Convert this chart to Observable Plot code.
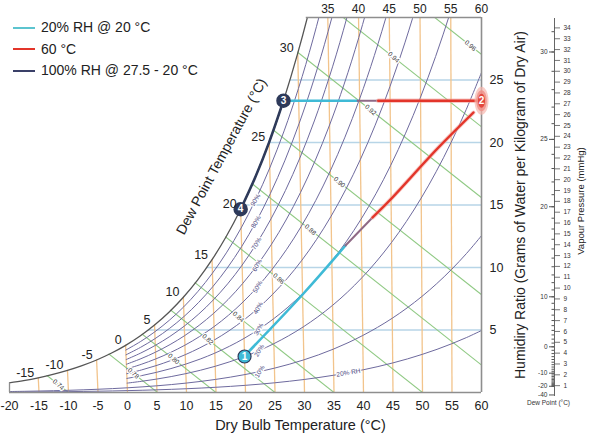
<!DOCTYPE html>
<html><head><meta charset="utf-8">
<script src="https://cdn.jsdelivr.net/npm/d3@7"></script>
<script src="https://cdn.jsdelivr.net/npm/@observablehq/plot@0.6"></script>
<style>
body{margin:0;background:#fff;font-family:"Liberation Sans",Arial,sans-serif;}
#wrap{position:relative;width:591px;height:438px;overflow:hidden;background:#fff;}
#wrap svg{position:absolute;top:0;}
#legend{position:absolute;left:13px;top:17px;font-size:14px;color:#222;line-height:21.5px;}
.row{display:flex;align-items:center;height:21.5px;}
.sw{width:22px;height:0;border-top:2px solid;margin-right:6px;}
</style></head><body>
<div id="wrap"><div id="legend"></div></div>
<script>
// ---------- data ----------
const tempsC = [-20,-17.5,-15,-12.5,-10,-7.5,-5,-2.5,0,2.5,5,7.5,10,12.5,15,17.5,20,22.5,25,27.5,30,32.5,35,37.5,40,42.5,45,47.5,50,52.5,55,57.5,60];
const pwsKPa = [0.1258,0.1556,0.1917,0.2349,0.2868,0.3486,0.4219,0.5087,0.6109,0.7310,0.8716,1.0354,1.2260,1.4469,1.7020,1.9959,2.3335,2.7200,3.1617,3.6652,4.2372,4.8848,5.6169,6.4440,7.3748,8.4194,9.5907,10.9003,12.3613,13.9884,15.7955,17.8010,20.0287];
const rhMain = [0.9,0.8,0.7,0.6,0.5,0.4,0.3,0.2];      // drawn from 0 °C
const rhLow = [0.1,0.04];                               // drawn from -20 °C
const rhLabelLevels = [0.9,0.8,0.7,0.6,0.5,0.4,0.3,0.2,0.1];
const rhLabelTexts = ["90%","80%","70%","60%","50%","40%","30%","20%","10%"];
const rhLabelT = 22.5;
const extraRhLabel = {r: 0.04, T: 37.5, text: "20% RH"};
const xTicks = [-20,-15,-10,-5,0,5,10,15,20,25,30,35,40,45,50,55,60];
const dryBulbLines = [-15,-10,-5,0,5,10,15,20,25,30,35,40,45,50,55];
const topLabels = [35,40,45,50,55,60];
const wTicks = [5,10,15,20,25];
const dewLabels = [-15,-10,-5,0,5,10,15,20,25,30];
const volX0 = [-10,5.1,15,25,35,50,65.9,81,101.8,117,132.5];
const volLabels = ["0.74","0.78","0.80","0.82","0.84","0.86","0.88","0.90","0.92","0.94","0.96"];
const volLabelX = [-11.7,1.0,7.8,13.6,18.8,25.6,31.0,35.9,41.2,45.1,58.1];
const volSlope = 0.373;
const topEdgeStart = 30.3;
// highlighted process paths
const diagX = [19.83,29.83,36.95,41.53,44.58,52.54,58.64];
const diagW = [2.92,7.92,11.76,14.0,15.44,19.52,22.4];
const horizBreaks = [39.0,42.5,59.3];
// nomogram
const mmHgTicks = d3.range(1,35);
const dewMajor = [30,25,20,10,0,-10,-20,-40];
const dewMinor = d3.range(-20,32);

// ---------- helpers ----------
const S = 0.0014;
const proj = (T, w) => T - S * (60 - T) * w;
const P = 101.325;
const ratio = (r, p) => 622 * r * p / (P - r * p);
const pts = tempsC.map((T, i) => ({T, p: pwsKPa[i]}));
const sat = pts.filter(d => d.T <= 35).map(d => { const W = ratio(1, d.p); return {T: d.T, W, X: proj(d.T, W)}; });
const satAt = T => sat.find(d => d.T === T);
const rhData = [];
for (const r of rhMain) for (const d of pts) if (d.T >= 0) { const W = ratio(r, d.p); rhData.push({r, T: d.T, W, X: proj(d.T, W)}); }
for (const r of rhLow) for (const d of pts) { const W = ratio(r, d.p); rhData.push({r, T: d.T, W, X: proj(d.T, W)}); }
const pAt = T => pts.find(d => d.T === T).p;
const rhLabelData = rhLabelLevels.map((r, i) => { const W = ratio(r, pAt(rhLabelT)); return {X: proj(rhLabelT, W), W, text: rhLabelTexts[i]}; });
{ const W = ratio(extraRhLabel.r, pAt(extraRhLabel.T)); rhLabelData.push({X: proj(extraRhLabel.T, W), W, text: extraRhLabel.text, rot: -9}); }

const m1 = (() => { const W = ratio(0.2, pAt(20)); return {X: proj(20, W), W, t: "1"}; })();
const m3 = {X: satAt(27.5).X, W: satAt(27.5).W, t: "3"};
const m4 = {X: satAt(20).X, W: satAt(20).W, t: "4"};
const m2 = {X: 60, W: m3.W, t: "2"};

const diag = diagX.map((X, i) => ({X, W: diagW[i]}));
const diagCyan = diag.slice(0, 3), diagMix = diag.slice(2, 4), diagRed = diag.slice(3);
const hW = m3.W;
const hCyan = [{X: m3.X, W: hW}, {X: horizBreaks[0], W: hW}];
const hMix = [{X: horizBreaks[0], W: hW}, {X: horizBreaks[1], W: hW}];
const hRed = [{X: horizBreaks[1], W: hW}, {X: horizBreaks[2], W: hW}];

const CYAN = "#3fbad6", RED = "#e3352a", NAVY = "#2e3a5a", MIX = "#8f6a86";
const RHC = "#6e6a9e", ORANGE = "#f2c48c", GREEN = "#8fc983", BLUE = "#b7d5e7", FRAME = "#8e8e8e";

const ellipse = {draw(ctx, size) {
  const r = Math.sqrt(size / Math.PI), rx = r * 0.5, ry = r, k = 0.5523;
  ctx.moveTo(rx, 0);
  ctx.bezierCurveTo(rx, ry * k, rx * k, ry, 0, ry);
  ctx.bezierCurveTo(-rx * k, ry, -rx, ry * k, -rx, 0);
  ctx.bezierCurveTo(-rx, -ry * k, -rx * k, -ry, 0, -ry);
  ctx.bezierCurveTo(rx * k, -ry, rx, -ry * k, rx, 0);
  ctx.closePath();
}};

const font = "Liberation Sans, Arial, sans-serif";
const mid = {textAnchor: "middle", lineAnchor: "middle"};

const main = Plot.plot({
  width: 591, height: 438,
  marginLeft: 9, marginRight: 110, marginTop: 17, marginBottom: 46,
  x: {domain: [-20, 60]},
  y: {domain: [0, 30]},
  style: {fontFamily: font, fontSize: "12.5px", background: "transparent", color: "#222"},
  marks: [
    Plot.ruleY(wTicks, {x1: -20, x2: 60, stroke: BLUE, strokeWidth: 1.3, clip: true}),
    Plot.link(dryBulbLines, {x1: T => proj(T, 0), y1: 0, x2: T => proj(T, 30), y2: 30, stroke: ORANGE, strokeWidth: 1.3, clip: true}),
    Plot.link(volX0, {x1: d => d, y1: 0, x2: d => d - 32 / volSlope, y2: 32, stroke: GREEN, strokeWidth: 1.1, clip: true}),
    Plot.line(rhData, {x: "X", y: "W", z: "r", stroke: RHC, strokeWidth: 1, curve: "catmull-rom", clip: true}),
    Plot.areaX(sat, {y: "W", x1: -20, x2: "X", fill: "white", curve: "catmull-rom", clip: true}),
    Plot.line(sat, {x: "X", y: "W", stroke: "#555", strokeWidth: 1.3, curve: "catmull-rom", clip: true}),
    Plot.ruleY([0], {x1: -20, x2: 60, stroke: FRAME, strokeWidth: 1.6}),
    Plot.ruleX([60], {y1: 0, y2: 30, stroke: FRAME, strokeWidth: 1.6}),
    Plot.ruleY([30], {x1: topEdgeStart, x2: 60, stroke: FRAME, strokeWidth: 1.3}),
    Plot.ruleX([-20], {y1: 0, y2: sat[0].W, stroke: FRAME, strokeWidth: 1.3}),
    Plot.text(volLabels, {x: (d, i) => volLabelX[i], y: (d, i) => volSlope * (volX0[i] - volLabelX[i]), text: d => d, rotate: 42, fontSize: 6.5, fill: "#333", stroke: "white", strokeWidth: 2.5, paintOrder: "stroke"}),
    Plot.text(rhLabelData, {x: "X", y: "W", text: "text", rotate: d => d.rot ?? -60, fontSize: 6.5, fill: "#4a4780", stroke: "white", strokeWidth: 2.5, paintOrder: "stroke"}),
    // process paths
    Plot.line(diagCyan, {x: "X", y: "W", stroke: CYAN, strokeWidth: 2.6, curve: "catmull-rom"}),
    Plot.line(diagMix, {x: "X", y: "W", stroke: MIX, strokeWidth: 2}),
    Plot.line(diagRed, {x: "X", y: "W", stroke: "#f2a49c", strokeWidth: 4, strokeOpacity: 0.6, curve: "catmull-rom"}),
    Plot.line(diagRed, {x: "X", y: "W", stroke: RED, strokeWidth: 2.4, curve: "catmull-rom"}),
    Plot.line(hCyan, {x: "X", y: "W", stroke: CYAN, strokeWidth: 2.6}),
    Plot.line(hMix, {x: "X", y: "W", stroke: MIX, strokeWidth: 2}),
    Plot.line(hRed, {x: "X", y: "W", stroke: "#f2a49c", strokeWidth: 4.5, strokeOpacity: 0.6}),
    Plot.line(hRed, {x: "X", y: "W", stroke: RED, strokeWidth: 2.4}),
    Plot.line(sat.filter(d => d.T >= 20 && d.T <= 27.5), {x: "X", y: "W", stroke: NAVY, strokeWidth: 2.6, curve: "catmull-rom"}),
    // markers
    Plot.dot([m2], {x: "X", y: "W", r: 14, symbol: ellipse, fill: "#f6b6ae", fillOpacity: 0.7}),
    Plot.dot([m2], {x: "X", y: "W", r: 10.5, symbol: ellipse, fill: "#ef8d84", fillOpacity: 0.8}),
    Plot.dot([m2], {x: "X", y: "W", r: 7, symbol: ellipse, fill: "#e3473d"}),
    Plot.dot([m1], {x: "X", y: "W", r: 6.5, fill: CYAN, stroke: NAVY, strokeWidth: 1.2}),
    Plot.dot([m3, m4], {x: "X", y: "W", r: 6.5, fill: NAVY, stroke: NAVY}),
    Plot.text([m1, m2, m3, m4], {x: "X", y: "W", text: "t", fill: "white", fontSize: 10, fontWeight: "bold"}),
    // dew point labels on saturation curve
    Plot.text(dewLabels, {x: T => satAt(T).X, y: T => satAt(T).W, text: d => d, textAnchor: "end", dx: -4, dy: -5, fontSize: 12.5, fill: "#222"}),
    // top dry bulb labels
    Plot.text(topLabels, {x: T => proj(T, 30), y: 30, text: d => d, dy: -8, fontSize: 12, fill: "#222"}),
    Plot.axisX({ticks: xTicks, tickSize: 0, tickPadding: 9, fontSize: 12.5, label: null, tickFormat: d => d}),
    Plot.axisY({anchor: "right", ticks: wTicks, tickSize: 0, tickPadding: 8, fontSize: 12.5, label: null}),
    Plot.text(["Dry Bulb Temperature (°C)"], {frameAnchor: "bottom", ...mid, dx: 55, dy: 33, fontSize: 14.5, fill: "#222"}),
    Plot.text(["Humidiry Ratio (Grams of Water per Kilogram of Dry Air)"], {frameAnchor: "right", ...mid, dx: 39, dy: 0, rotate: -90, fontSize: 14, fill: "#222"}),
    Plot.text(["Dew Point Temperature (°C)"], {frameAnchor: "top-left", ...mid, dx: 212, dy: 139, rotate: -61.7, fontSize: 14, fill: "#222"})
  ]
});
document.getElementById("wrap").appendChild(main);

// ---------- vapour pressure / dew point nomogram ----------
const toMmHg = Td => 0.61094 * Math.exp(17.625 * Td / (Td + 243.04)) * 7.50062;
const dewMap = new Map(dewMajor.map(t => [toMmHg(t), t]));
const nomo = Plot.plot({
  width: 91, height: 438,
  marginLeft: 54, marginRight: 31, marginTop: 18, marginBottom: 43,
  x: {domain: [0, 1], axis: null},
  y: {domain: [0, 34], range: [396, 27.4], axis: null},
  style: {fontFamily: font, background: "transparent", color: "#333"},
  marks: [
    Plot.frame({anchor: "left", stroke: "#555", strokeWidth: 0.9}),
    Plot.tickY(mmHgTicks, {stroke: "#555", strokeWidth: 0.8}),
    Plot.axisY({anchor: "right", ticks: mmHgTicks, tickSize: 0, tickPadding: 3, fontSize: 6.5, tickFormat: d => d}),
    Plot.axisY({anchor: "left", ticks: dewMinor.map(toMmHg), tickSize: 2.5, tickFormat: () => "", stroke: "#555"}),
    Plot.axisY({anchor: "left", ticks: dewMajor.map(toMmHg), tickSize: 5, tickPadding: 2, fontSize: 6.5, tickFormat: d => dewMap.get(d), stroke: "#555"}),
    Plot.text(["Dew Point (°C)"], {frameAnchor: "bottom-left", ...mid, dx: -6, dy: 7, fontSize: 6.5, fill: "#333"}),
    Plot.text(["Vapour Pressure (mmHg)"], {frameAnchor: "left", ...mid, dx: 26, dy: -6, rotate: -90, fontSize: 9.5, fill: "#222"})
  ]
});
nomo.style.left = "500px";
document.getElementById("wrap").appendChild(nomo);

// ---------- legend ----------
const legendItems = [["20% RH @ 20 °C", "#5cc4cf"], ["60 °C", RED], ["100% RH @ 27.5 - 20 °C", "#3a4068"]];
const lg = document.getElementById("legend");
for (const [label, color] of legendItems) {
  const row = document.createElement("div"); row.className = "row";
  const sw = document.createElement("span"); sw.className = "sw"; sw.style.borderColor = color;
  const tx = document.createElement("span"); tx.textContent = label;
  row.appendChild(sw); row.appendChild(tx); lg.appendChild(row);
}
document.getElementById("wrap").appendChild(lg);
</script>
</body></html>
